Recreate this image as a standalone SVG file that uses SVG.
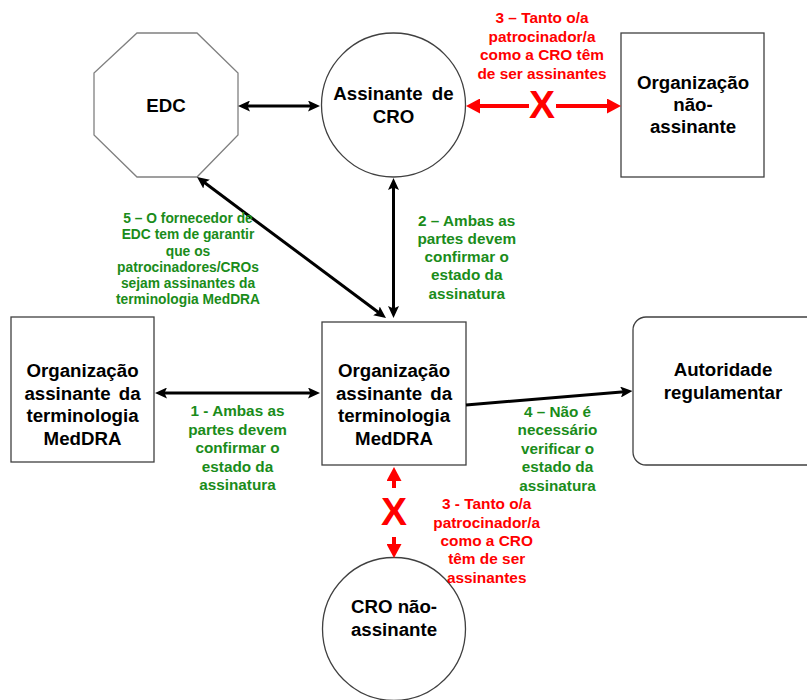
<svg xmlns="http://www.w3.org/2000/svg" width="807" height="700" viewBox="0 0 807 700">
<style>
.node{fill:#fff;stroke:#404040;stroke-width:1.3}
.oct{fill:#fff;stroke:#808080;stroke-width:1.3}
.nt{font-family:"Liberation Sans",Arial,sans-serif;font-weight:bold;font-size:18.7px;fill:#000;text-anchor:middle}
.g{font-family:"Liberation Sans",Arial,sans-serif;font-weight:bold;font-size:15.3px;fill:#1a8c1a;text-anchor:middle}
.g5{font-size:13.8px}
.r{font-family:"Liberation Sans",Arial,sans-serif;font-weight:bold;font-size:15.4px;fill:#ff0000;text-anchor:middle}
.x{font-family:"Liberation Sans",Arial,sans-serif;font-weight:bold;font-size:39px;fill:#ff0000;text-anchor:middle}
.bl{stroke:#000;stroke-width:3;fill:none;marker-end:url(#ah);marker-start:url(#ah)}
.bl1{stroke:#000;stroke-width:3;fill:none;marker-end:url(#ah)}
.rl{stroke:#ff0000;stroke-width:4;fill:none;marker-end:url(#rh)}
</style>
<defs>
<marker id="ah" markerUnits="userSpaceOnUse" markerWidth="12" markerHeight="11" viewBox="0 0 12 11" refX="4" refY="5.5" orient="auto-start-reverse">
<path d="M0,0 L12,5.5 L0,11 L2.5,5.5 z" fill="#000"/>
</marker>
<marker id="rh" markerUnits="userSpaceOnUse" markerWidth="14" markerHeight="15" viewBox="0 0 14 15" refX="6" refY="7.5" orient="auto">
<path d="M0,0 L14,7.5 L0,15 z" fill="#ff0000"/>
</marker>
</defs>

<g id="edc">
<polygon class="oct" points="137,33 197,33 238,73 238,135 197,177 137,177 94,135 94,73"/>
<text class="nt" x="166" y="112">EDC</text>
</g>
<g id="cro-assinante">
<circle class="node" cx="393.5" cy="105" r="72"/>
<text class="nt" x="393.5" y="100" word-spacing="4">Assinante de</text>
<text class="nt" x="393.5" y="122.5">CRO</text>
</g>
<g id="org-nao-assinante">
<rect class="node" x="621" y="33" width="143" height="144"/>
<text class="nt" x="693" y="89">Organização</text>
<text class="nt" x="693" y="111">não-</text>
<text class="nt" x="693" y="133">assinante</text>
</g>
<g id="org-assinante-esq">
<rect class="node" x="11" y="317" width="143" height="145"/>
<text class="nt" x="82.5" y="377">Organização</text>
<text class="nt" x="82.5" y="399.5" word-spacing="3">assinante da</text>
<text class="nt" x="82.5" y="422">terminologia</text>
<text class="nt" x="82.5" y="444.5">MedDRA</text>
</g>
<g id="org-assinante-centro">
<rect class="node" x="322" y="322" width="144" height="143"/>
<text class="nt" x="394" y="377">Organização</text>
<text class="nt" x="394" y="399.5" word-spacing="3">assinante da</text>
<text class="nt" x="394" y="422">terminologia</text>
<text class="nt" x="394" y="444.5">MedDRA</text>
</g>
<g id="autoridade">
<rect class="node" x="633" y="317" width="200" height="148" rx="13" ry="13"/>
<text class="nt" x="723" y="375.5">Autoridade</text>
<text class="nt" x="723" y="399">regulamentar</text>
</g>
<g id="cro-nao-assinante">
<circle class="node" cx="394" cy="629" r="71.5"/>
<text class="nt" x="394" y="613">CRO não-</text>
<text class="nt" x="394" y="636">assinante</text>
</g>

<g id="connectors">
<line class="bl" x1="246" y1="106" x2="312" y2="106"/>
<line class="bl" x1="393.5" y1="186" x2="393.5" y2="310"/>
<line class="bl" x1="203.4" y1="181.8" x2="379.6" y2="313.2"/>
<line class="bl" x1="163" y1="393" x2="312" y2="393"/>
<line class="bl1" x1="466" y1="405" x2="624.5" y2="391.7"/>
<line class="rl" x1="529" y1="106" x2="474" y2="106"/>
<line class="rl" x1="556" y1="106" x2="613" y2="106"/>
<text class="x" x="542" y="118">X</text>
<line class="rl" x1="394" y1="488" x2="394" y2="475"/>
<line class="rl" x1="394" y1="537" x2="394" y2="550"/>
<text class="x" x="394" y="525">X</text>
</g>

<g id="labels">
<text class="r" x="542" y="23">3 – Tanto o/a</text>
<text class="r" x="542" y="41.5">patrocinador/a</text>
<text class="r" x="542" y="60">como a CRO têm</text>
<text class="r" x="542" y="78.5">de ser assinantes</text>

<text class="g g5" x="188" y="222.5">5 – O fornecedor de</text>
<text class="g g5" x="188" y="239">EDC tem de garantir</text>
<text class="g g5" x="188" y="255.5">que os</text>
<text class="g g5" x="188" y="272">patrocinadores/CROs</text>
<text class="g g5" x="188" y="288">sejam assinantes da</text>
<text class="g g5" x="188" y="304">terminologia MedDRA</text>

<text class="g" x="466.7" y="225.5">2 – Ambas as</text>
<text class="g" x="466.7" y="243.8">partes devem</text>
<text class="g" x="466.7" y="262.1">confirmar o</text>
<text class="g" x="466.7" y="280.4">estado da</text>
<text class="g" x="466.7" y="298.7">assinatura</text>

<text class="g" x="237.5" y="416">1 - Ambas as</text>
<text class="g" x="237.5" y="434.5">partes devem</text>
<text class="g" x="237.5" y="453">confirmar o</text>
<text class="g" x="237.5" y="471.5">estado da</text>
<text class="g" x="237.5" y="490">assinatura</text>

<text class="g" x="557.5" y="416.5">4 – Não é</text>
<text class="g" x="557.5" y="435">necessário</text>
<text class="g" x="557.5" y="453.5">verificar o</text>
<text class="g" x="557.5" y="472">estado da</text>
<text class="g" x="557.5" y="490.5">assinatura</text>

<text class="r" x="486.7" y="509.3">3 - Tanto o/a</text>
<text class="r" x="486.7" y="527.7">patrocinador/a</text>
<text class="r" x="486.7" y="546">como a CRO</text>
<text class="r" x="486.7" y="564.4">têm de ser</text>
<text class="r" x="486.7" y="582.8">assinantes</text>
</g>
</svg>
